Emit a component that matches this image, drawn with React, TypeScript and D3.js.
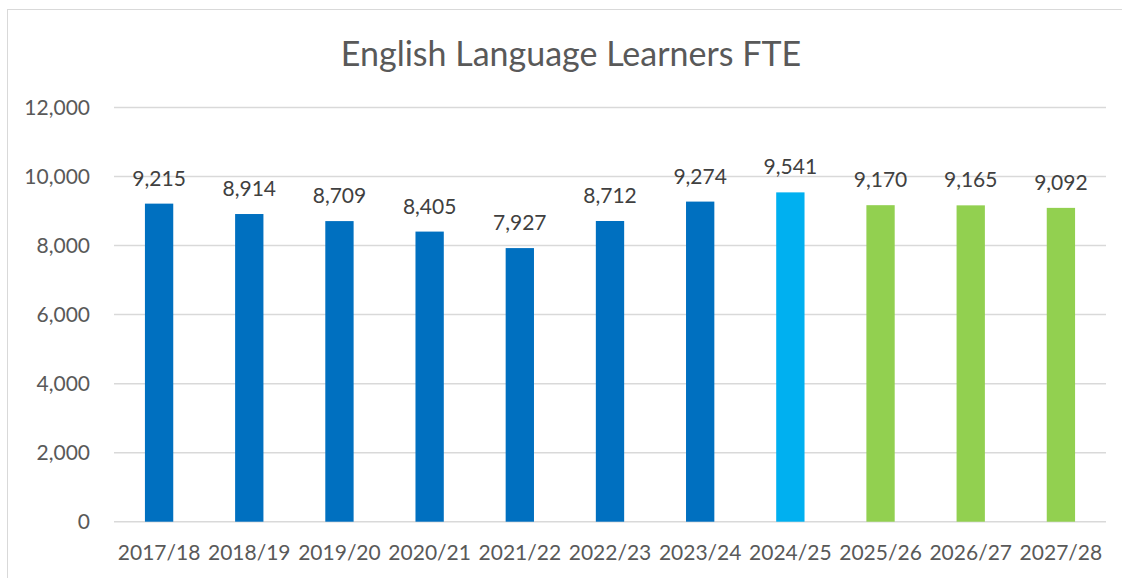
import React from "react";
import * as d3 from "d3";

const title = "English Language Learners FTE";
const categories = ["2017/18", "2018/19", "2019/20", "2020/21", "2021/22", "2022/23", "2023/24", "2024/25", "2025/26", "2026/27", "2027/28"];
const values = [9215, 8914, 8709, 8405, 7927, 8712, 9274, 9541, 9170, 9165, 9092];
const kinds = ["actual", "actual", "actual", "actual", "actual", "actual", "actual", "current", "projected", "projected", "projected"];
const yTicks = [0, 2000, 4000, 6000, 8000, 10000, 12000];

const colorByKind: Record<string, string> = {
  actual: "#0070C0",
  current: "#00B0F0",
  projected: "#92D050",
};

const W = 1122;
const H = 578;
const FONT = "Lato, 'Open Sans', sans-serif";

export default function App() {
  const x = d3
    .scaleBand<string>()
    .domain(categories)
    .range([114, 1106])
    .paddingInner(0.686)
    .paddingOuter(0.343);
  const y = d3.scaleLinear().domain([0, 12000]).range([521.7, 107.5]);
  const fmt = d3.format(",");

  return (
    <div style={{ position: "absolute", left: 0, top: 0, width: W, height: H, background: "#fff" }}>
      <svg width={W} height={H} style={{ display: "block", fontFamily: FONT }}>
        <rect x={7.5} y={9.5} width={W + 20} height={H + 20} fill="#fff" stroke="#d9d9d9" strokeWidth={1} />
        <text x={571} y={66} textAnchor="middle" fontSize={34} fill="#595959">
          {title}
        </text>
        {yTicks.map((t) => (
          <g key={t}>
            <line x1={114} x2={1106} y1={y(t)} y2={y(t)} stroke="#d9d9d9" strokeWidth={1.5} />
            <text x={90} y={y(t)} dy="0.35em" textAnchor="end" fontSize={21} fill="#595959">
              {fmt(t)}
            </text>
          </g>
        ))}
        {categories.map((c, i) => (
          <g key={c}>
            <rect
              x={x(c)}
              y={y(values[i])}
              width={x.bandwidth()}
              height={y(0) - y(values[i])}
              fill={colorByKind[kinds[i]]}
            />
            <text
              x={(x(c) as number) + x.bandwidth() / 2}
              y={y(values[i]) - 18}
              textAnchor="middle"
              fontSize={21}
              fill="#404040"
            >
              {fmt(values[i])}
            </text>
            <text
              x={(x(c) as number) + x.bandwidth() / 2}
              y={560}
              textAnchor="middle"
              fontSize={21}
              fill="#595959"
            >
              {c}
            </text>
          </g>
        ))}
      </svg>
    </div>
  );
}
